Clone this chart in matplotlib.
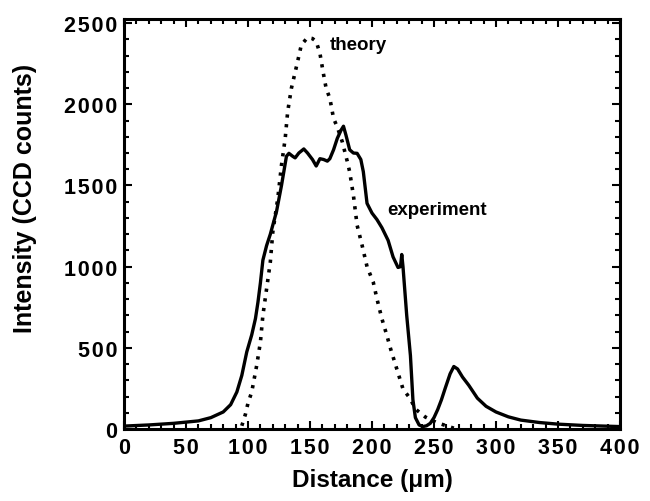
#!/usr/bin/env python3

import matplotlib
matplotlib.use("Agg")
import matplotlib.pyplot as plt
import matplotlib.ticker as ticker


IMAGE_SIZE_PX = (650, 502)
IMAGE_DPI = 100

# experiment (solid line)
EXP_X = [0, 20, 40, 60, 70, 80, 86, 91, 95, 99, 103, 106, 108, 110, 112, 115,
         118, 123, 127, 131, 133, 136, 138, 141, 145, 148, 152, 155, 158, 161,
         164, 166, 169, 172, 175, 177, 179, 182, 185, 188, 191, 193, 196, 200,
         204, 208, 213, 217, 221, 223, 224, 225, 228, 231, 233, 235, 238, 241,
         244, 247, 250, 253, 256, 259, 263, 266, 269, 273, 278, 285, 292, 300,
         310, 320, 335, 350, 370, 400]
EXP_Y = [18, 25, 35, 50, 70, 105, 150, 228, 330, 475, 580, 680, 780, 900, 1040,
         1130, 1200, 1340, 1500, 1680, 1698, 1680, 1670, 1700, 1725, 1700, 1660,
         1620, 1665, 1660, 1650, 1665, 1720, 1790, 1840, 1865, 1810, 1720, 1700,
         1698, 1660, 1585, 1390, 1330, 1290, 1240, 1162, 1060, 995, 1000, 1075,
         1000, 700, 452, 180, 70, 25, 15, 20, 35, 70, 120, 180, 250, 340, 385,
         370, 320, 270, 190, 140, 105, 75, 55, 40, 30, 22, 15]

# theory (dotted line)
TH_X = [95, 98, 100, 103, 107, 110, 112, 115, 118, 120, 124, 127, 130, 132, 135,
        140, 143, 148, 152, 155, 158, 161, 163, 166, 169, 172, 176, 180, 182,
        185, 188, 192, 196, 201, 204, 208, 212, 215, 220, 225, 231, 235, 243,
        252, 260, 266]
TH_Y = [20, 93, 160, 228, 391, 535, 700, 864, 1029, 1214, 1420, 1625, 1790, 1955,
        2099, 2263, 2366, 2411, 2405, 2387, 2314, 2181, 2099, 2037, 1913, 1860,
        1770, 1650, 1584, 1440, 1255, 1132, 1000, 905, 802, 679, 576, 494, 370,
        247, 185, 123, 74, 40, 20, 5]

X_TICKS = [0, 50, 100, 150, 200, 250, 300, 350, 400]
Y_TICKS = [0, 500, 1000, 1500, 2000, 2500]

FONT = "Liberation Sans"


def spaced(val, pos):
    # the original labels have loose letter spacing
    return "\u200a".join(str(int(val)))


def main():
    plt.rcParams["font.family"] = [FONT, "DejaVu Sans"]
    plt.rcParams["font.weight"] = "bold"

    fig = plt.figure(figsize=tuple(d / IMAGE_DPI for d in IMAGE_SIZE_PX), dpi=IMAGE_DPI)
    ax = fig.add_axes([0.1908, 0.1434, 0.7630, 0.8166])

    ax.plot(EXP_X, EXP_Y, color="black", linewidth=2.4, solid_joinstyle="round")
    ax.plot(TH_X, TH_Y, color="black", linewidth=2.6, linestyle=(0, (0.9, 1.8)))

    ax.set_xlim(0, 400)
    ax.set_ylim(0, 2525)
    ax.set_xticks(X_TICKS)
    ax.set_yticks(Y_TICKS)
    ax.xaxis.set_major_formatter(ticker.FuncFormatter(spaced))
    ax.yaxis.set_major_formatter(ticker.FuncFormatter(spaced))
    ax.xaxis.set_minor_locator(ticker.MultipleLocator(10))
    ax.yaxis.set_minor_locator(ticker.MultipleLocator(100))
    ax.tick_params(which="both", direction="in", top=True, right=True,
                   width=1.5, labelsize=15.5)
    ax.tick_params(which="major", length=6)
    ax.tick_params(which="minor", length=3.5)
    ax.tick_params(axis="x", pad=6)
    ax.tick_params(axis="y", pad=5)
    for lab in ax.get_xticklabels() + ax.get_yticklabels():
        lab.set_fontweight("bold")
    for sp in ax.spines.values():
        sp.set_linewidth(2.2)

    ax.set_xlabel("Distance (\u03bcm)", fontsize=17.5, fontweight="bold", labelpad=7)
    ax.set_ylabel("Intensity (CCD counts)", fontsize=18, fontweight="bold")
    # the y label sits a little above the middle in the original
    ax.yaxis.set_label_coords(-0.175, 0.564)

    ax.text(166, 2370, "theory", fontsize=13.5, fontweight="bold", va="center")
    ax.text(212, 1355, "experiment", fontsize=13.5, fontweight="bold", va="center")

    fig.savefig("out.png", dpi=IMAGE_DPI)


if __name__ == "__main__":
    main()
